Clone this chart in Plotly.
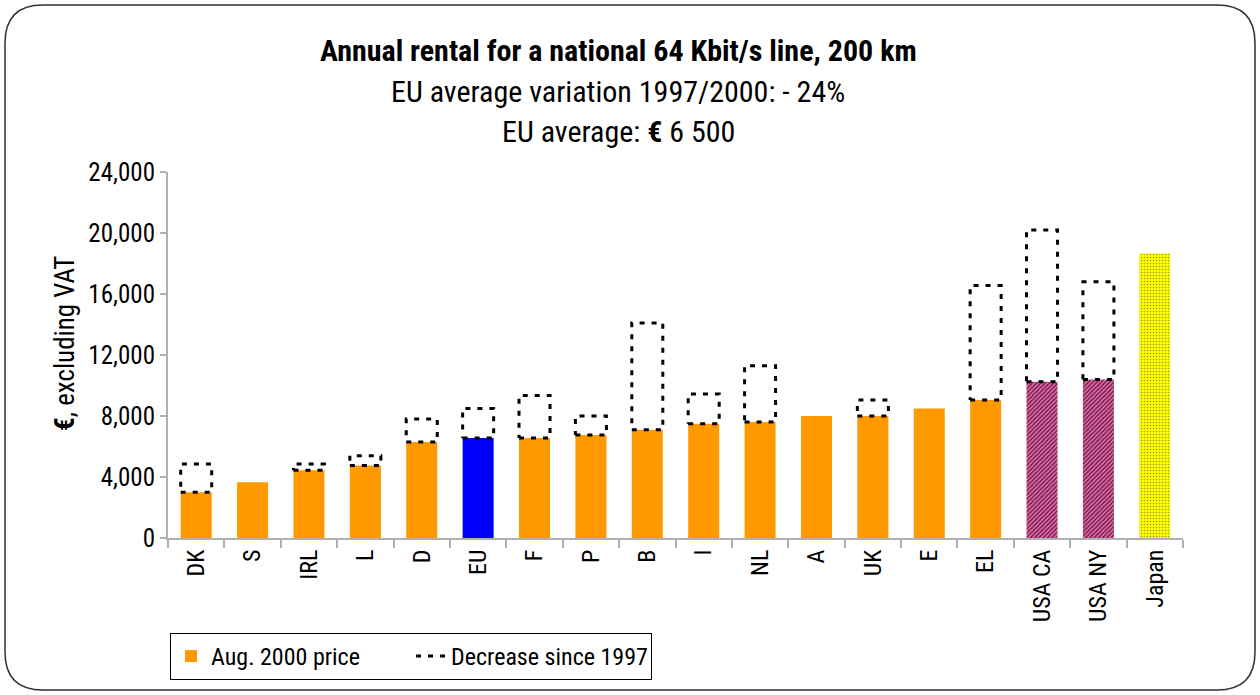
import plotly.graph_objects as go

categories = ["DK", "S", "IRL", "L", "D", "EU", "F", "P", "B", "I", "NL", "A", "UK", "E", "EL", "USA CA", "USA NY", "Japan"]
price_2000 = [3000, 3650, 4450, 4750, 6300, 6550, 6550, 6750, 7100, 7500, 7600, 8000, 8000, 8500, 9050, 10250, 10400, 18650]
price_1997 = [4850, None, 4850, 5400, 7800, 8500, 9350, 8000, 14100, 9450, 11300, None, 9050, None, 16550, 20200, 16800, None]
y_ticks = [0, 4000, 8000, 12000, 16000, 20000, 24000]

FONT = "Liberation Sans Narrow, Arial Narrow, Roboto Condensed, Liberation Sans, sans-serif"
BAR_W = 0.55

# per-bar styling
bar_colors, pat_shapes, pat_fg, pat_bg, pat_sol = [], [], [], [], []
for c in categories:
    if c == "EU":
        bar_colors.append("#0000FF"); pat_shapes.append(""); pat_fg.append("#0000FF"); pat_bg.append("#0000FF"); pat_sol.append(0.3)
    elif c.startswith("USA"):
        bar_colors.append("#900A50"); pat_shapes.append("/"); pat_fg.append("#2A1AA8"); pat_bg.append("#A00C48"); pat_sol.append(0.5)
    elif c == "Japan":
        bar_colors.append("#FFFF00"); pat_shapes.append("."); pat_fg.append("#EEDD00"); pat_bg.append("#FFFF00"); pat_sol.append(0.25)
    else:
        bar_colors.append("#FF9900"); pat_shapes.append(""); pat_fg.append("#FF9900"); pat_bg.append("#FF9900"); pat_sol.append(0.3)

xs = list(range(len(categories)))

fig = go.Figure()
fig.add_trace(go.Bar(
    x=xs, y=price_2000, width=BAR_W, name="Aug. 2000 price",
    marker=dict(color=bar_colors, line=dict(width=0),
                pattern=dict(shape=pat_shapes, fgcolor=pat_fg, bgcolor=pat_bg, size=3, solidity=pat_sol)),
    showlegend=True,
))

# dashed boxes for the decrease since 1997
bx, by = [], []
for i, (p0, p1) in enumerate(zip(price_2000, price_1997)):
    if p1 is None:
        continue
    l, r = i - BAR_W / 2, i + BAR_W / 2
    bx += [l, r, r, l, l, None]
    by += [p0, p0, p1, p1, p0, None]
fig.add_trace(go.Scatter(
    x=bx, y=by, mode="lines", name="Decrease since 1997",
    line=dict(color="black", width=3, dash="5px,7px"),
    hoverinfo="skip",
))

# layout geometry
L, R, T, B = 168, 77, 172, 157
W, H = 1260, 695
pw, ph = W - L - R, H - T - B

def px(x):
    return (x - L) / pw

def py(y):
    return (H - B - y) / ph

# rounded outer border
x0, x1, y0, y1, rad = 5, 1255, 5, 690, 38
path = (f"M {px(x0 + rad)},{py(y0)} L {px(x1 - rad)},{py(y0)} "
        f"Q {px(x1)},{py(y0)} {px(x1)},{py(y0 + rad)} L {px(x1)},{py(y1 - rad)} "
        f"Q {px(x1)},{py(y1)} {px(x1 - rad)},{py(y1)} L {px(x0 + rad)},{py(y1)} "
        f"Q {px(x0)},{py(y1)} {px(x0)},{py(y1 - rad)} L {px(x0)},{py(y0 + rad)} "
        f"Q {px(x0)},{py(y0)} {px(x0 + rad)},{py(y0)} Z")
fig.add_shape(type="path", path=path, xref="paper", yref="paper",
              line=dict(color="#303030", width=1.5), layer="below")

annos = [
    dict(text="<b>Annual rental for a national 64 Kbit/s line, 200 km</b>", y=py(50), size=30),
    dict(text="EU average variation 1997/2000: - 24%", y=py(91), size=30),
    dict(text="EU average: <b>€</b> 6 500", y=py(131), size=30),
]
for a in annos:
    fig.add_annotation(text=a["text"], x=px(618), y=a["y"], xref="paper", yref="paper",
                       showarrow=False, font=dict(family=FONT, size=a["size"], color="black"),
                       xanchor="center", yanchor="middle")

fig.add_annotation(text="<b>€</b>, excluding VAT", x=px(65), y=py(344), xref="paper", yref="paper",
                   textangle=-90, showarrow=False, font=dict(family=FONT, size=27, color="black"),
                   xanchor="center", yanchor="middle")

fig.update_layout(
    width=W, height=H,
    margin=dict(l=L, r=R, t=T, b=B, autoexpand=False),
    paper_bgcolor="white", plot_bgcolor="white",
    font=dict(family=FONT, color="black"),
    legend=dict(orientation="h", x=px(170), y=py(633), xanchor="left", yanchor="top",
                bordercolor="black", borderwidth=1, font=dict(family=FONT, size=24),
                itemwidth=30, entrywidth=195, traceorder="normal"),
    xaxis=dict(range=[-0.5, len(categories) - 0.5], tickvals=xs, ticktext=categories,
               tickangle=-90, ticks="", showline=True, linecolor="#B0B0B0", linewidth=2,
               tickfont=dict(family=FONT, size=24, color="black"), showgrid=False, zeroline=False,
               minor=dict(tick0=-0.5, dtick=1, ticks="outside", ticklen=8, tickcolor="#B0B0B0", tickwidth=2)),
    yaxis=dict(range=[0, 24000], tickvals=y_ticks, tickformat=",d", ticks="outside", ticklen=6,
               tickcolor="#B0B0B0", tickwidth=1.5, showline=True, linecolor="#B0B0B0", linewidth=2,
               tickfont=dict(family=FONT, size=25, color="black"), showgrid=False, zeroline=False),
)

fig.write_html("out.html", config={"displayModeBar": False},
               post_script="document.body.style.margin='0';document.body.style.overflow='hidden';")
